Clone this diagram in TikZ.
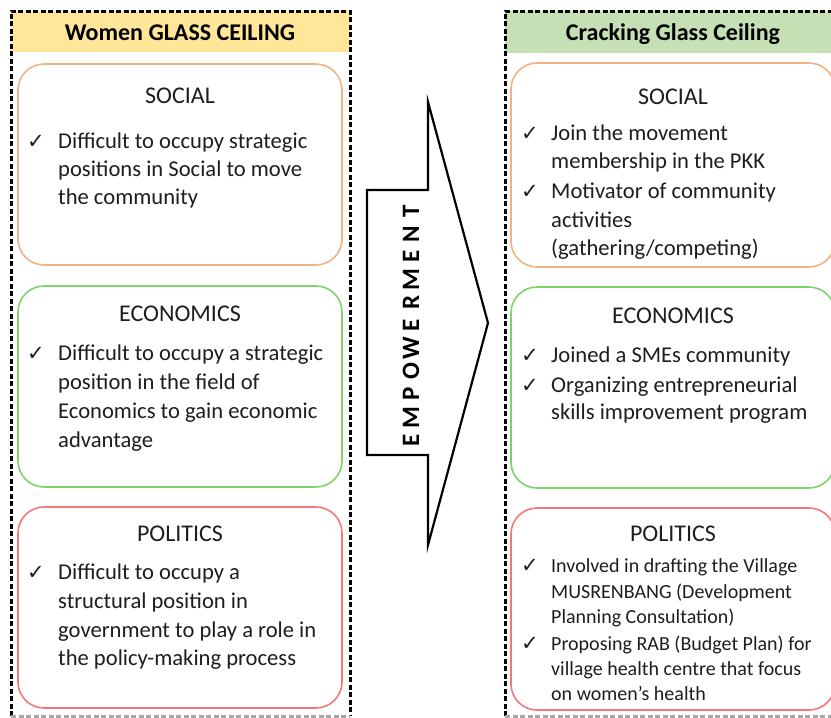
\documentclass[tikz,border=0pt]{standalone}
\usepackage{fontspec}
\setmainfont{Carlito}
\newfontfamily\symfont{DejaVu Sans}
\definecolor{hdryellow}{HTML}{FFE699}
\definecolor{hdrgreen}{HTML}{C5E0B4}
\definecolor{socstroke}{HTML}{F4B183}
\definecolor{ecostroke}{HTML}{7ED36B}
\definecolor{polstroke}{HTML}{F4777A}
\definecolor{txt}{HTML}{1E1E1E}
\begin{document}
\begin{tikzpicture}[x=1pt,y=-1pt,
  panel/.style={draw=black, line width=3pt, dash pattern=on 5pt off 2.5pt},
  card/.style={draw, line width=1.6pt, rounded corners=26pt, fill=white, minimum width=324pt, inner sep=0pt},
  hdr/.style={font=\bfseries\fontsize{24}{28}\selectfont, text=black, anchor=base, inner sep=0pt},
  ttl/.style={font=\fontsize{24}{28}\selectfont, text=txt, anchor=base, inner sep=0pt},
  ln/.style={font=\fontsize{22.6}{26}\selectfont, text=txt, anchor=base west, inner sep=0pt},
  lns/.style={font=\fontsize{20}{24}\selectfont, text=txt, anchor=base west, inner sep=0pt},
  chk/.style={font=\symfont\fontsize{21}{24}\selectfont, text=txt, anchor=base west, inner sep=0pt},
  emp/.style={font=\bfseries\fontsize{25}{28}\selectfont, text=black, rotate=90, inner sep=0pt}
]
\useasboundingbox (0,0) rectangle (831,718);
\clip (0,0) rectangle (831,718);
% headers
\fill[hdryellow] (11,11) rectangle (350,52);
\fill[hdrgreen] (505,11) rectangle (845,53);
% panels
\draw[panel] (11,716) -- (11,11) -- (350,11) -- (350,716);
\draw[panel, draw=black!35] (11,716) -- (350,716);
\draw[panel] (505,716) -- (505,11) -- (845,11) -- (845,716);
\draw[panel, draw=black!35] (505,716) -- (845,716);
\node[hdr] (lh) at (180,40) {Women GLASS CEILING};
\node[hdr] (rh) at (673,40) {Cracking Glass Ceiling};
% left cards
\node[card, draw=socstroke, minimum height=201pt] (ls) at (180,164.5) {};
\node[card, draw=ecostroke, minimum height=201pt] (le) at (180,386.5) {};
\node[card, draw=polstroke, minimum height=201pt] (lp) at (180,607.5) {};
% right cards
\node[card, draw=socstroke, minimum height=204pt] (rs) at (673,165) {};
\node[card, draw=ecostroke, minimum height=201pt] (re) at (673,387.5) {};
\node[card, draw=polstroke, minimum height=202pt] (rp) at (673,609) {};
% left social
\node[ttl] (lst) at (180,103) {SOCIAL};
\node[chk] (lsc1) at (27,148) {✓};
\node[ln] (ls1) at (58,148) {Difficult to occupy strategic};
\node[ln] (ls2) at (58,176) {positions in Social to move};
\node[ln] (ls3) at (58,204) {the community};
% left economics
\node[ttl] (let) at (180,321) {ECONOMICS};
\node[chk] (lec1) at (27,360) {✓};
\node[ln] (le1) at (58,360) {Difficult to occupy a strategic};
\node[ln] (le2) at (58,389) {position in the field of};
\node[ln] (le3) at (58,418) {Economics to gain economic};
\node[ln] (le4) at (58,447) {advantage};
% left politics
\node[ttl] (lpt) at (180,541) {POLITICS};
\node[chk] (lpc1) at (27,579) {✓};
\node[ln] (lp1) at (58,579) {Difficult to occupy a};
\node[ln] (lp2) at (58,608) {structural position in};
\node[ln] (lp3) at (58,637) {government to play a role in};
\node[ln] (lp4) at (58,665) {the policy-making process};
% right social
\node[ttl] (rst) at (673,104) {SOCIAL};
\node[chk] (rsc1) at (521,140) {✓};
\node[ln] (rs1) at (551,140) {Join the movement};
\node[ln] (rs2) at (551,168) {membership in the PKK};
\node[chk] (rsc2) at (521,198) {✓};
\node[ln] (rs3) at (551,198) {Motivator of community};
\node[ln] (rs4) at (551,227) {activities};
\node[ln] (rs5) at (551,255) {(gathering/competing)};
% right economics
\node[ttl] (ret) at (673,323) {ECONOMICS};
\node[chk] (rec1) at (521,362) {✓};
\node[ln] (re1) at (551,362) {Joined a SMEs community};
\node[chk] (rec2) at (521,392) {✓};
\node[ln] (re2) at (551,392) {Organizing entrepreneurial};
\node[ln] (re3) at (551,419) {skills improvement program};
% right politics
\node[ttl] (rpt) at (673,541) {POLITICS};
\node[chk] (rpc1) at (521,572) {✓};
\node[lns] (rp1) at (551,572) {Involved in drafting the Village};
\node[lns] (rp2) at (551,598) {MUSRENBANG (Development};
\node[lns] (rp3) at (551,623) {Planning Consultation)};
\node[chk] (rpc2) at (521,650) {✓};
\node[lns] (rp4) at (551,650) {Proposing RAB (Budget Plan) for};
\node[lns] (rp5) at (551,675) {village health centre that focus};
\node[lns] (rp6) at (551,700) {on women's health};
% arrow
\draw[line width=2.2pt, line join=miter, fill=white] (367,190) -- (428,190) -- (428,102) -- (488,323) -- (428,545) -- (428,455) -- (367,455) -- cycle;
\foreach \ch [count=\i] in {E,M,P,O,W,E,R,M,E,N,T}
  \node[emp] (emp\i) at (411,{440-(\i-1)*22.9}) {\ch};
\end{tikzpicture}
\end{document}
